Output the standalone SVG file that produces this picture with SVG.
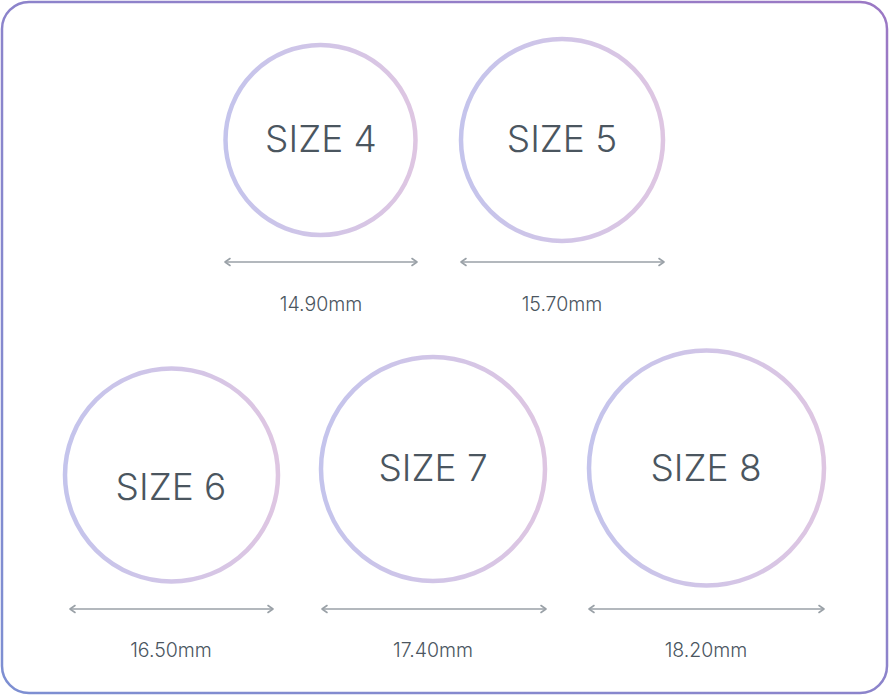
<svg xmlns="http://www.w3.org/2000/svg" width="889" height="695" viewBox="0 0 889 695">
<defs>
<linearGradient id="bg" x1="0" y1="1" x2="1" y2="0">
<stop offset="0" stop-color="#7d8fd2"/>
<stop offset="1" stop-color="#9b78c4"/>
</linearGradient>
<linearGradient id="cg" x1="0" y1="0" x2="1" y2="0">
<stop offset="0" stop-color="#c4c4ec"/>
<stop offset="1" stop-color="#dec6e2"/>
</linearGradient>
<marker id="ah" viewBox="0 0 10 10" refX="8" refY="5" markerWidth="10" markerHeight="10" markerUnits="userSpaceOnUse" orient="auto-start-reverse">
<path d="M3,1.5 L8,5 L3,8.5" fill="none" stroke="#9aa1a7" stroke-width="1.6" stroke-linecap="round" stroke-linejoin="round"/>
</marker>
<style>
.ring{fill:none;stroke:url(#cg);stroke-width:4.5}
.t{font-family:Inter,"Noto Sans",sans-serif;font-size:37px;font-weight:300;fill:#4b565f;text-anchor:middle}
.m{font-family:Inter,"Noto Sans",sans-serif;font-size:19.5px;font-weight:300;fill:#4b565f;text-anchor:middle}
.d{stroke:#9aa1a7;stroke-width:1.6;fill:none;marker-start:url(#ah);marker-end:url(#ah)}
</style>
</defs>
<rect x="2" y="2" width="885" height="691" rx="27" ry="27" fill="#fff" stroke="url(#bg)" stroke-width="2.5"/>
<g id="size4"><circle class="ring" cx="320.5" cy="140" r="95"/><text class="t" x="321" y="152">SIZE 4</text></g>
<g id="size5"><circle class="ring" cx="562" cy="140" r="101"/><text class="t" x="562" y="152">SIZE 5</text></g>
<g id="size6"><circle class="ring" cx="171.5" cy="475" r="106.5"/><text class="t" x="171" y="500">SIZE 6</text></g>
<g id="size7"><circle class="ring" cx="433" cy="469" r="112"/><text class="t" x="433" y="481">SIZE 7</text></g>
<g id="size8"><circle class="ring" cx="706.5" cy="468" r="117.5"/><text class="t" x="706" y="481">SIZE 8</text></g>
<g id="connectors">
<line class="d" x1="225" y1="262" x2="417" y2="262"/>
<line class="d" x1="461" y1="262" x2="664" y2="262"/>
<line class="d" x1="70" y1="609" x2="273" y2="609"/>
<line class="d" x1="322" y1="609" x2="546" y2="609"/>
<line class="d" x1="589" y1="609" x2="824" y2="609"/>
</g>
<g id="labels">
<text class="m" x="321" y="311">14.90mm</text>
<text class="m" x="562" y="311">15.70mm</text>
<text class="m" x="171" y="657">16.50mm</text>
<text class="m" x="433" y="657">17.40mm</text>
<text class="m" x="706" y="657">18.20mm</text>
</g>
</svg>
